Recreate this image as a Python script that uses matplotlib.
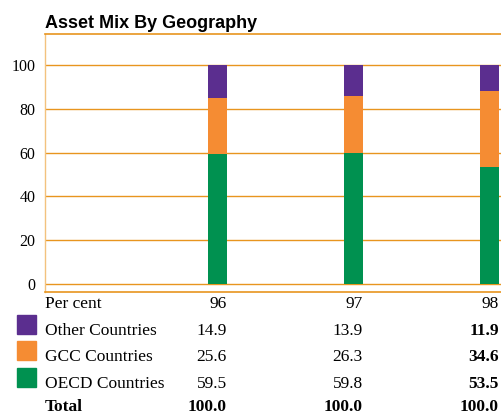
import matplotlib
matplotlib.use('Agg')
import matplotlib.pyplot as plt
import matplotlib.transforms as mtransforms
from matplotlib.patches import Rectangle
import numpy as np

# data
years = ['96', '97', '98']
other = [14.9, 13.9, 11.9]
gcc = [25.6, 26.3, 34.6]
oecd = [59.5, 59.8, 53.5]
totals = [100.0, 100.0, 100.0]
series_names = ['Other Countries', 'GCC Countries', 'OECD Countries']
yticks = [0, 20, 40, 60, 80, 100]

PURPLE = '#5b2e8f'
ORANGE = '#f58c33'
GREEN = '#009150'
LINE = '#e8951f'
LIGHT = '#f3c27e'
SERIF = 'Liberation Serif'

W, H = 501, 415
fig = plt.figure(figsize=(W / 100, H / 100), dpi=100)

# axes box in pixel terms: left 45, right 501, top 34, bottom 292
ax = fig.add_axes([45 / W, (H - 292) / H, (W - 45) / W, (292 - 34) / H])

x = np.arange(len(years))
width = 0.14
ax.bar(x, oecd, width, color=GREEN, zorder=3)
ax.bar(x, gcc, width, bottom=oecd, color=ORANGE, zorder=3)
ax.bar(x, other, width, bottom=np.add(oecd, gcc), color=PURPLE, zorder=3)

ax.set_xlim(-1.268, 2.085)
ax.set_ylim(-3.65, 114.2)
ax.set_yticks(yticks)
ax.set_yticklabels([str(v) for v in yticks], fontfamily=SERIF, fontsize=11.5)
ax.set_xticks([])
ax.tick_params(axis='y', length=0, pad=7)
for v in yticks:
    ax.axhline(v, color=LINE, lw=1.0, zorder=1)

ax.spines['right'].set_visible(False)
ax.spines['left'].set_color(LIGHT)
ax.spines['left'].set_linewidth(1.0)
ax.spines['top'].set_color(LINE)
ax.spines['top'].set_linewidth(1.2)
ax.spines['bottom'].set_color(LINE)
ax.spines['bottom'].set_linewidth(1.2)

fig.text(45 / W, (H - 28) / H, 'Asset Mix By Geography', fontsize=13,
         fontweight='bold', family='Liberation Sans', va='baseline', ha='left')

# table below the chart
trans = mtransforms.blended_transform_factory(ax.transData, fig.transFigure)
fy = lambda py: (H - py) / H
txt = dict(fontfamily=SERIF, fontsize=12.5, va='baseline')

fig.text(45 / W, fy(308), 'Per cent', **txt)
for i, yr in enumerate(years):
    fig.text(x[i] + width / 2, fy(308), yr, transform=trans, ha='right', **txt)

rows = [other, gcc, oecd]
colors = [PURPLE, ORANGE, GREEN]
baselines = [335, 361, 388]
for name, vals, col, b in zip(series_names, rows, colors, baselines):
    fig.patches.append(Rectangle((17 / W, fy(b - 1)), 19 / W, 19 / H,
                                 color=col, transform=fig.transFigure, figure=fig))
    fig.text(45 / W, fy(b), name, **txt)
    for i, v in enumerate(vals):
        fig.text(x[i] + width / 2, fy(b), f'{v:.1f}', transform=trans, ha='right',
                 fontweight='bold' if i == 2 else 'normal', **txt)

fig.text(45 / W, fy(411), 'Total', fontweight='bold', **txt)
for i, v in enumerate(totals):
    fig.text(x[i] + width / 2, fy(411), f'{v:.1f}', transform=trans, ha='right',
             fontweight='bold', **txt)

fig.savefig('out.png', dpi=100)
